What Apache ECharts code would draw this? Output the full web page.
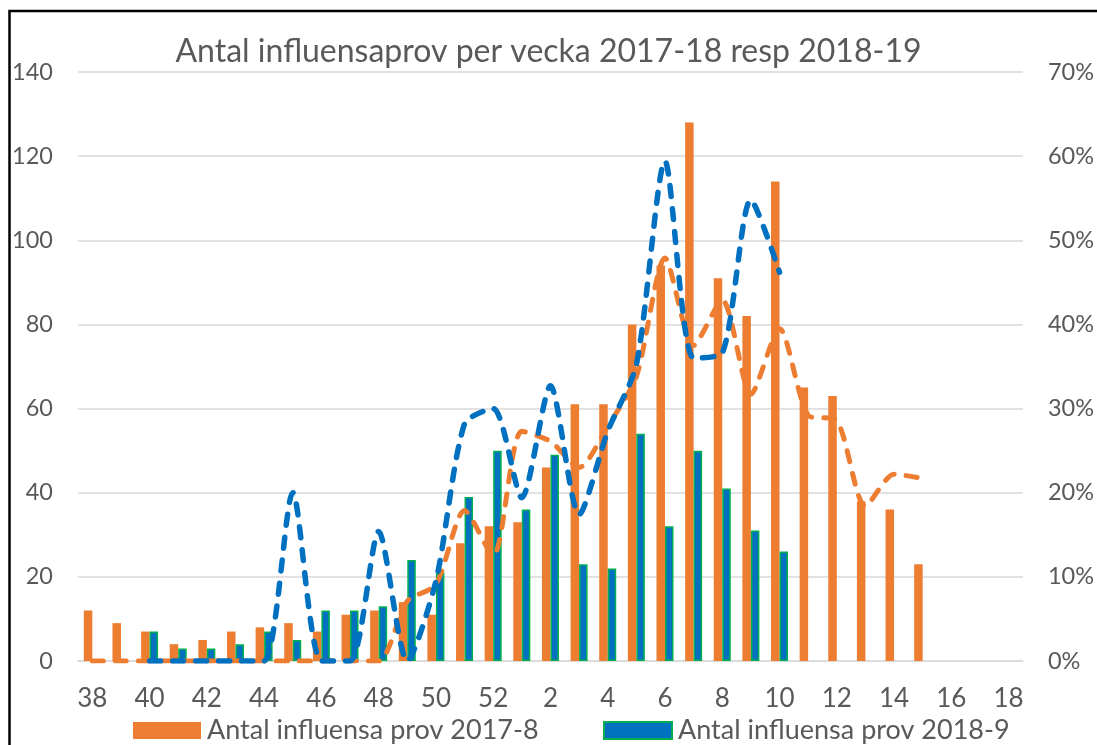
<!DOCTYPE html>
<html>
<head>
<meta charset="utf-8">
<script src="https://cdn.jsdelivr.net/npm/echarts@6/dist/echarts.min.js"></script>
<style>
  html, body { margin: 0; padding: 0; background: #fff; }
  #chart { width: 1097px; height: 745px; }
</style>
</head>
<body>
<div id="chart"></div>
<script>
// veckor 38-52 och 1-18
const weeks = ['38','39','40','41','42','43','44','45','46','47','48','49','50','51','52',
  '1','2','3','4','5','6','7','8','9','10','11','12','13','14','15','16','17','18'];

// antal prov per vecka
const prov2017 = [12, 9, 7, 4, 5, 7, 8, 9, 7, 11, 12, 14, 11, 28, 32,
  33, 46, 61, 61, 80, 94, 128, 91, 82, 114, 65, 63, 38, 36, 23, null, null, null];
const prov2018 = [null, null, 7, 3, 3, 4, 7, 5, 12, 12, 13, 24, 21, 39, 50,
  36, 49, 23, 22, 54, 32, 50, 41, 31, 26, null, null, null, null, null, null, null, null];

// andel positiva (%)
const andel2017 = [0, 0, 0, 0, 0, 0, 0, 0, 0, 0, 0, 7.1, 9.1, 17.9, 12.5,
  27.3, 26.1, 23.0, 27.9, 33.8, 47.9, 37.5, 42.9, 31.7, 39.5, 29.2, 28.6, 18.4, 22.2, 21.7, null, null, null];
const andel2018 = [null, null, 0, 0, 0, 0, 0, 20, 0, 0, 15.4, 0, 9.5, 28.2, 30,
  19.4, 32.7, 17.4, 27.3, 35.2, 59.4, 36, 36.6, 54.8, 46.2, null, null, null, null, null, null, null, null];

const leftTicks = [0, 140, 20];
const rightTicks = [0, 70, 10];

const textColor = '#595959';
const fontFam = 'Lato, "Liberation Sans", sans-serif';

const myChart = echarts.init(document.getElementById('chart'));
const option = {
  animation: false,
  backgroundColor: '#fff',
  title: {
    text: 'Antal influensaprov per vecka 2017-18 resp 2018-19',
    left: 'center',
    top: 36,
    padding: 0,
    textStyle: { color: textColor, fontSize: 32, fontWeight: 'normal', fontFamily: fontFam }
  },
  graphic: [
    {
      type: 'rect',
      shape: { x: 9.5, y: 11, width: 2000, height: 2000 },
      style: { fill: 'none', stroke: '#000', lineWidth: 2.5 },
      silent: true
    }
  ],
  legend: [
    {
      left: 133, top: 717, padding: 0,
      itemWidth: 68, itemHeight: 17,
      icon: 'rect',
      data: ['Antal influensa prov 2017-8'],
      textStyle: { color: textColor, fontSize: 27, fontFamily: fontFam, padding: [0, 0, 0, 1] }
    },
    {
      left: 603, top: 717, padding: 0,
      itemWidth: 68, itemHeight: 17,
      icon: 'rect',
      data: ['Antal influensa prov 2018-9'],
      textStyle: { color: textColor, fontSize: 27, fontFamily: fontFam, padding: [0, 0, 0, 1] }
    }
  ],
  grid: { left: 78, right: 74, top: 72, bottom: 84 },
  xAxis: {
    type: 'category',
    data: weeks,
    axisLine: { lineStyle: { color: '#D9D9D9', width: 1.5 } },
    axisTick: { show: false },
    axisLabel: { interval: 1, color: textColor, fontSize: 26, margin: 25, fontFamily: fontFam }
  },
  yAxis: [
    {
      type: 'value',
      min: leftTicks[0], max: leftTicks[1], interval: leftTicks[2],
      axisLine: { show: false },
      axisTick: { show: false },
      splitLine: { lineStyle: { color: '#D9D9D9', width: 1.5 } },
      axisLabel: { color: textColor, fontSize: 23.5, margin: 25, fontFamily: fontFam }
    },
    {
      type: 'value',
      min: rightTicks[0], max: rightTicks[1], interval: rightTicks[2],
      axisLine: { show: false },
      axisTick: { show: false },
      splitLine: { show: false },
      axisLabel: { color: textColor, fontSize: 23.5, margin: 25, fontFamily: fontFam, formatter: '{value}%' }
    }
  ],
  series: [
    {
      name: 'Antal influensa prov 2017-8',
      type: 'bar',
      data: prov2017,
      barWidth: 8.5,
      barGap: '0%',
      itemStyle: { color: '#ED7D31' }
    },
    {
      name: 'Antal influensa prov 2018-9',
      type: 'bar',
      data: prov2018,
      barWidth: 8.5,
      itemStyle: { color: '#0070C0', borderColor: '#00B050', borderWidth: 1.5 }
    },
    {
      name: 'Andel positiva 2017-8',
      type: 'line',
      yAxisIndex: 1,
      data: andel2017,
      smooth: 0.25,
      symbol: 'none',
      z: 3,
      lineStyle: { color: '#ED7D31', width: 5, type: [11, 12], cap: 'round' }
    },
    {
      name: 'Andel positiva 2018-9',
      type: 'line',
      yAxisIndex: 1,
      data: andel2018,
      smooth: 0.25,
      symbol: 'none',
      z: 4,
      lineStyle: { color: '#0070C0', width: 5.5, type: [11, 12], cap: 'round' }
    }
  ]
};
option && myChart.setOption(option);
</script>
</body>
</html>
